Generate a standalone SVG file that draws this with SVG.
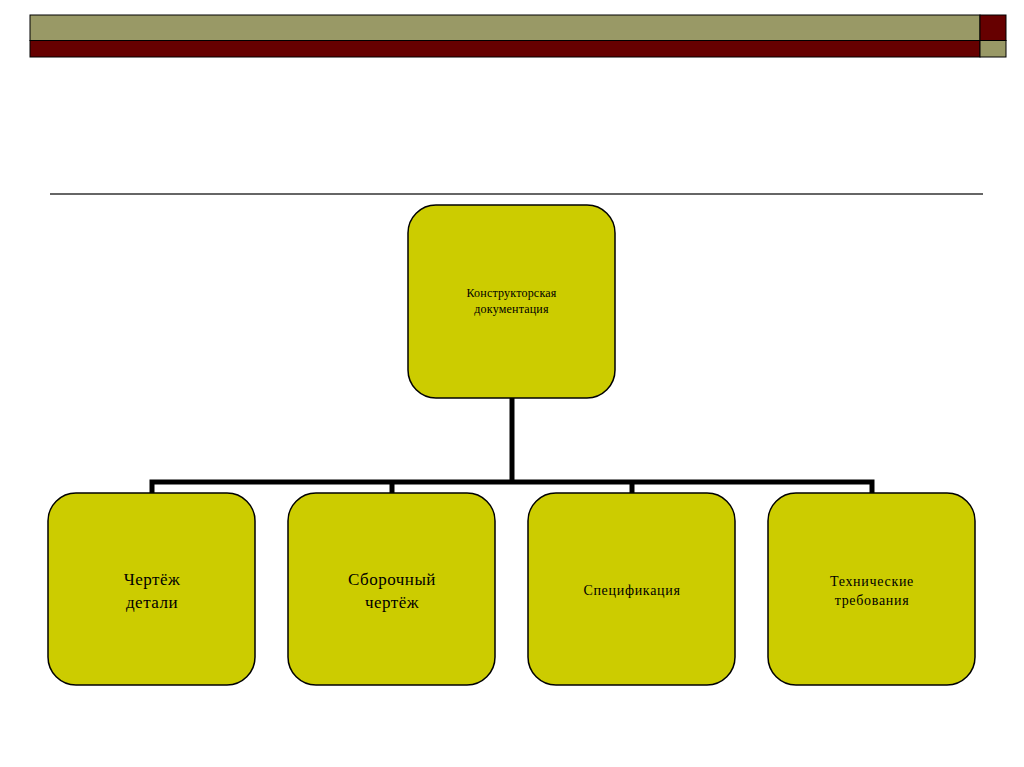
<svg xmlns="http://www.w3.org/2000/svg" width="1024" height="767" viewBox="0 0 1024 767">
<style>
.node{fill:#cccc00;stroke:#000;stroke-width:1.5}
.lbl{font-family:"Liberation Serif","DejaVu Serif",serif;fill:#000;text-anchor:middle}
.big{font-size:17px;letter-spacing:0.5px}
.mid{font-size:14px;letter-spacing:0.7px}
.sm{font-size:12px;letter-spacing:0.2px}
.conn{fill:none;stroke:#000;stroke-width:5}
</style>
<rect width="1024" height="767" fill="#fff"/>
<g id="header" stroke="#000" stroke-width="1">
<rect x="30" y="15" width="950" height="25.5" fill="#999966"/>
<rect x="30" y="40.5" width="950" height="16.5" fill="#660000"/>
<rect x="980" y="15" width="26" height="25.5" fill="#660000"/>
<rect x="980" y="40.5" width="26" height="16.5" fill="#999966"/>
</g>
<line x1="50" y1="194" x2="983" y2="194" stroke="#333" stroke-width="1.5"/>
<g id="connectors" class="conn">
<path d="M512,398 V482"/>
<path d="M152,493 V482 H872 V493"/>
<path d="M392,482 V493"/>
<path d="M632,482 V493"/>
</g>
<g id="n0">
<rect class="node" x="408" y="205" width="207" height="193" rx="28"/>
<text class="lbl sm" x="511.5" y="297">Конструкторская</text>
<text class="lbl sm" x="511.5" y="313">документация</text>
</g>
<g id="n1">
<rect class="node" x="48" y="493" width="207" height="192" rx="28"/>
<text class="lbl big" x="152" y="585">Чертёж</text>
<text class="lbl big" x="152" y="608">детали</text>
</g>
<g id="n2">
<rect class="node" x="288" y="493" width="207" height="192" rx="28"/>
<text class="lbl big" x="392" y="585">Сборочный</text>
<text class="lbl big" x="392" y="608">чертёж</text>
</g>
<g id="n3">
<rect class="node" x="528" y="493" width="207" height="192" rx="28"/>
<text class="lbl mid" x="632" y="595">Спецификация</text>
</g>
<g id="n4">
<rect class="node" x="768" y="493" width="207" height="192" rx="28"/>
<text class="lbl mid" x="872" y="586">Технические</text>
<text class="lbl mid" x="872" y="605">требования</text>
</g>
</svg>
